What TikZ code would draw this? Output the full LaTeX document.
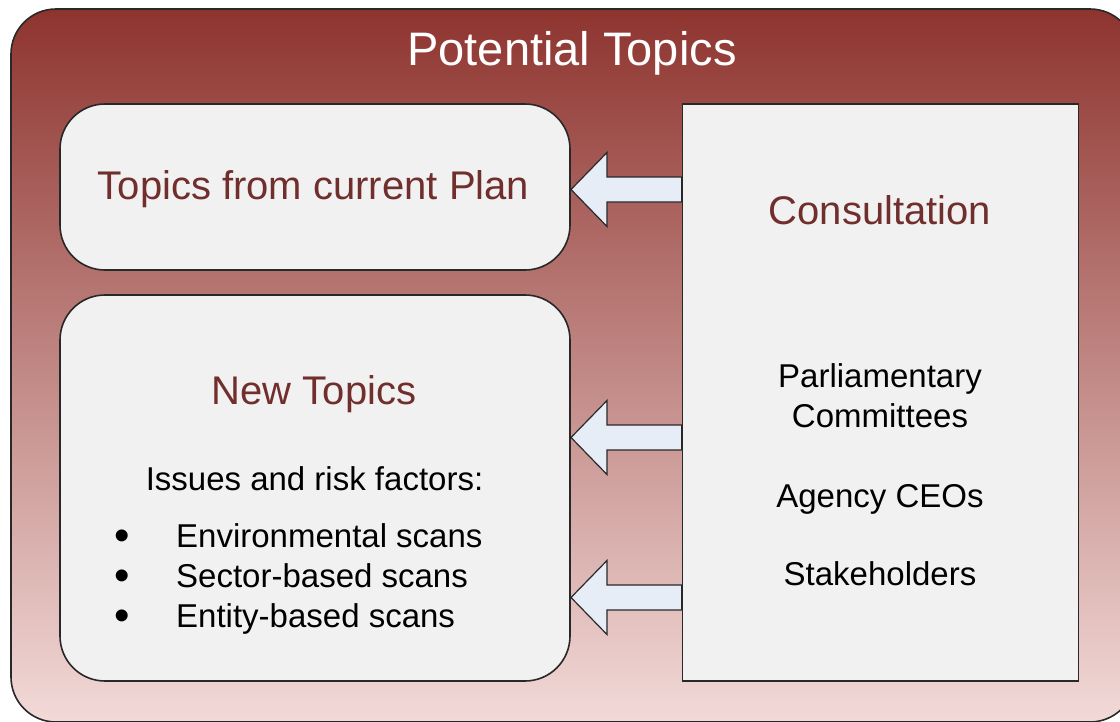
\documentclass[tikz,border=0pt]{standalone}
\usepackage{fontspec}
\setmainfont{Liberation Sans}
\usetikzlibrary{calc}
\definecolor{frameTop}{RGB}{142,52,47}
\definecolor{frameBot}{RGB}{242,218,216}
\definecolor{paneFill}{RGB}{241,241,241}
\definecolor{edgeGray}{RGB}{40,40,40}
\definecolor{headRed}{RGB}{112,46,44}
\definecolor{arrowFill}{RGB}{230,237,247}
\begin{document}
\begin{tikzpicture}[x=1pt,y=-1pt,
  outerframe/.style={draw=edgeGray,line width=1.6pt,rounded corners=45pt,
    top color=frameTop,bottom color=frameBot},
  pane/.style={draw=edgeGray,line width=1.6pt,fill=paneFill,rounded corners=45pt},
  plainpane/.style={draw=edgeGray,line width=1.6pt,fill=paneFill},
  flow/.style={draw=edgeGray,line width=1.2pt,fill=arrowFill,line join=miter},
  bigtitle/.style={anchor=base,inner sep=0pt,text=white,font=\fontsize{47}{56}\selectfont},
  heading/.style={anchor=base,inner sep=0pt,text=headRed,font=\fontsize{40}{48}\selectfont},
  bodytext/.style={anchor=base,inner sep=0pt,text=black,font=\fontsize{33}{40}\selectfont},
  bulletmark/.style={anchor=base,inner sep=0pt,text=black,font=\fontsize{44}{50}\selectfont},
]
\useasboundingbox (0,0) rectangle (1120,721);

% outer frame with vertical gradient
\path[outerframe] (11,9) rectangle (1135,722);
\node[bigtitle] (title) at (572,65) {Potential Topics};

% left panes
\path[pane] (60,104) rectangle (570,270);
\path[pane] (60,295) rectangle (570,681);

\node[heading] (plan) at (313.5,199) {Topics from current Plan};
\node[heading] (newt) at (314,404) {New Topics};
\node[bodytext] (issues) at (314.5,490) {Issues and risk factors:};
\node[bulletmark] (b1) at (122,550) {•};
\node[bulletmark] (b2) at (122,590) {•};
\node[bulletmark] (b3) at (122,630) {•};
\node[bodytext,anchor=base west] (env) at (176,547) {Environmental scans};
\node[bodytext,anchor=base west] (sec) at (176,587) {Sector-based scans};
\node[bodytext,anchor=base west] (ent) at (176,627) {Entity-based scans};

% consultation pane
\node[plainpane,minimum width=396pt,minimum height=577pt,inner sep=0pt] (cons) at (880.5,392.5) {};
\node[heading] (constitle) at (880,224) {Consultation};
\node[bodytext] (parl) at (880,387) {Parliamentary};
\node[bodytext] (comm) at (880,427) {Committees};
\node[bodytext] (ceo) at (880,507) {Agency CEOs};
\node[bodytext] (stake) at (880,585) {Stakeholders};

% block arrows from the consultation pane to the topic panes
\newcommand\blockflow[2]{%
  \draw[flow] ($(#1)+(1,0)$) -- ++(36,-37) -- ++(0,24.5)
    -- ($(cons.west |- #2)+(0,-12.5)$) -- ($(cons.west |- #2)+(0,12.5)$)
    -- ($(#1)+(37,12.5)$) -- ++(0,24.5) -- cycle;}
\coordinate (r1) at (0,189.5);
\coordinate (r2) at (0,437.5);
\coordinate (r3) at (0,597.5);
\coordinate (planTip) at (570,189.5);
\coordinate (newTip) at (570,437.5);
\coordinate (newTip2) at (570,597.5);
\blockflow{planTip}{r1}
\blockflow{newTip}{r2}
\blockflow{newTip2}{r3}
\end{tikzpicture}
\end{document}
